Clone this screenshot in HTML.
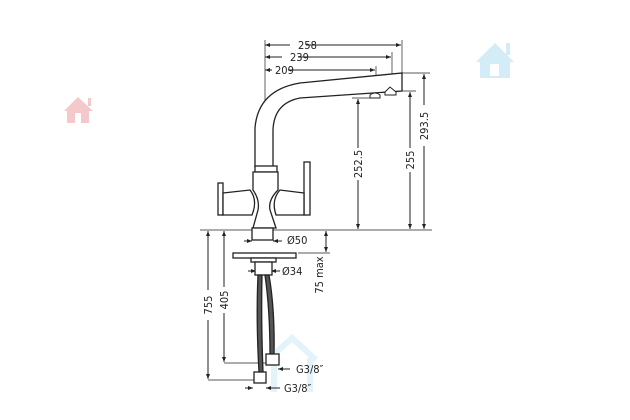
<!DOCTYPE html>
<html><head><meta charset="utf-8"><style>
html,body{margin:0;padding:0;background:#fff;}
svg{display:block;}
text{font-family:"DejaVu Sans Condensed","Liberation Sans",sans-serif;font-size:11px;fill:#222;}
</style></head><body>
<svg width="630" height="420" viewBox="0 0 630 420" xmlns="http://www.w3.org/2000/svg">
<defs>
<marker id="a" viewBox="0 0 10 10" refX="10" refY="5" markerWidth="7" markerHeight="5" orient="auto-start-reverse" markerUnits="userSpaceOnUse"><path d="M0,1 L10,5 L0,9z" fill="#222"/></marker>
</defs>
<!-- watermarks -->
<g fill="#f5c9cc"><polygon points="64,111 78,97 93,111"/><rect x="88" y="98" width="3" height="8"/><rect x="67" y="110" width="22" height="13"/><rect x="75" y="113" width="6" height="10" fill="#fff"/></g>
<g fill="#d3ecf8"><polygon points="476,62 495,43 514,62"/><rect x="506" y="43" width="4" height="12"/><rect x="480" y="60" width="30" height="18"/><rect x="490" y="64" width="9" height="12" fill="#fff"/></g>
<g fill="none" stroke="#d8eef8" stroke-width="6" opacity="0.7"><polyline points="268,360 292,338 316,360"/><line x1="274" y1="358" x2="274" y2="392"/><line x1="310" y1="358" x2="310" y2="392"/></g>

<g stroke="#222" stroke-width="1" fill="none">
<!-- extension lines -->
<line x1="265" y1="40" x2="265" y2="228" stroke-width="0.7"/>
<line x1="402" y1="40" x2="402" y2="73" stroke-width="0.7"/>
<line x1="392" y1="52" x2="392" y2="88" stroke-width="0.7"/>
<line x1="376" y1="66" x2="376" y2="92" stroke-width="0.7"/>
<line x1="402" y1="73" x2="430" y2="73" stroke-width="0.7"/>
<line x1="392" y1="91" x2="416" y2="91" stroke-width="0.7"/>
<line x1="352" y1="98" x2="378" y2="98" stroke-width="0.7"/>
<line x1="200" y1="230" x2="432" y2="230" stroke-width="0.7"/>
<!-- horizontal dims -->
<line x1="265" y1="45" x2="290" y2="45" marker-start="url(#a)"/><line x1="306" y1="45" x2="401" y2="45" marker-end="url(#a)"/>
<line x1="265" y1="57" x2="282" y2="57" marker-start="url(#a)"/><line x1="298" y1="57" x2="391" y2="57" marker-end="url(#a)"/>
<line x1="265" y1="70" x2="272" y2="70" marker-start="url(#a)"/><line x1="288" y1="70" x2="375" y2="70" marker-end="url(#a)"/>
<!-- vertical dims -->
<line x1="358" y1="99" x2="358" y2="148" marker-start="url(#a)"/><line x1="358" y1="180" x2="358" y2="229" marker-end="url(#a)"/>
<line x1="410" y1="92" x2="410" y2="148" marker-start="url(#a)"/><line x1="410" y1="172" x2="410" y2="229" marker-end="url(#a)"/>
<line x1="424" y1="74" x2="424" y2="105" marker-start="url(#a)"/><line x1="424" y1="146" x2="424" y2="229" marker-end="url(#a)"/>
<line x1="208" y1="231" x2="208" y2="290" marker-start="url(#a)"/><line x1="208" y1="320" x2="208" y2="379" marker-end="url(#a)"/>
<line x1="224" y1="231" x2="224" y2="287" marker-start="url(#a)"/><line x1="224" y1="313" x2="224" y2="362" marker-end="url(#a)"/>
<line x1="326" y1="231" x2="326" y2="252" marker-start="url(#a)" marker-end="url(#a)"/>
<line x1="298" y1="253" x2="330" y2="253" stroke-width="0.7"/>
<line x1="224" y1="363" x2="268" y2="363" stroke-width="0.7"/>
<line x1="208" y1="380" x2="256" y2="380" stroke-width="0.7"/>
<!-- Ø markers -->
<line x1="244" y1="241" x2="252" y2="241" marker-end="url(#a)"/><line x1="282" y1="241" x2="273" y2="241" marker-end="url(#a)"/>
<line x1="248" y1="271" x2="256" y2="271" marker-end="url(#a)"/><line x1="280" y1="271" x2="271" y2="271" marker-end="url(#a)"/>
<line x1="290" y1="369" x2="278" y2="369" marker-end="url(#a)"/>
<line x1="245" y1="388" x2="253" y2="388" marker-end="url(#a)"/><line x1="280" y1="388" x2="266" y2="388" marker-end="url(#a)"/>
</g>

<!-- faucet -->
<g stroke="#222" stroke-width="1.3" fill="#fff">
<path d="M255,168 L255,128 Q258,90 300,83 L402,73 L402,91 L300,98 Q274,103 273,130 L273,168"/>
<path d="M370,95 q5,-4 10,0 l0,3 l-10,0z" stroke-width="1"/>
<path d="M385,92 l5,-5 l6,5 l0,3 l-11,0z" stroke-width="1"/>
<rect x="255" y="166" width="22" height="6"/>
<path d="M253,172 L278,172 L278,190 Q268,200 270,210 L276,228 L253,228 L258,210 Q260,200 253,190 Z"/>
<rect x="218" y="183" width="5" height="32"/>
<path d="M223,193 L250,190 Q258,200 252,215 L223,215 Z"/>
<rect x="304" y="162" width="6" height="53"/>
<path d="M304,193 L280,190 Q271,200 276,215 L304,215 Z"/>
<rect x="252" y="228" width="21" height="12"/>
<rect x="233" y="253" width="63" height="5"/>
<rect x="251" y="258" width="25" height="4"/>
<rect x="255" y="262" width="17" height="13"/>
<path d="M258,275 Q256,320 259,372 L263,372 Q261,320 262,275 Z" fill="#555"/>
<path d="M265,275 Q270,310 270,355 L274,355 Q275,310 269,275 Z" fill="#555"/>
<rect x="266" y="354" width="13" height="11"/>
<rect x="254" y="372" width="12" height="11"/>
</g>

<text x="298" y="49">258</text>
<text x="290" y="61">239</text>
<text x="275" y="74">209</text>
<text x="287" y="244">Ø50</text>
<text x="282" y="275">Ø34</text>
<text x="296" y="373">G3/8″</text>
<text x="284" y="392">G3/8″</text>
<text transform="translate(362,164) rotate(-90)" text-anchor="middle">252.5</text>
<text transform="translate(414,160) rotate(-90)" text-anchor="middle">255</text>
<text transform="translate(428,126) rotate(-90)" text-anchor="middle">293.5</text>
<text transform="translate(212,305) rotate(-90)" text-anchor="middle">755</text>
<text transform="translate(228,300) rotate(-90)" text-anchor="middle">405</text>
<text transform="translate(323,275) rotate(-90)" text-anchor="middle">75 max</text>
</svg>
</body></html>
